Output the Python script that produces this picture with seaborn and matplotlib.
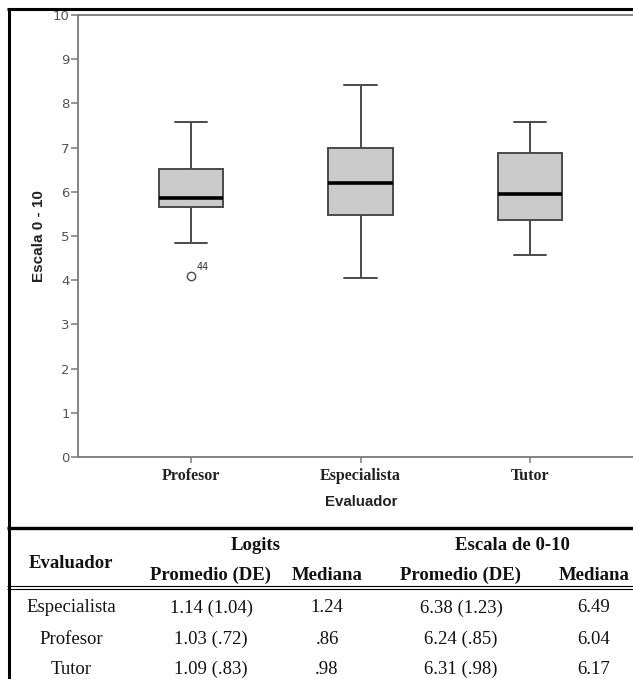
import numpy as np
import pandas as pd
import matplotlib
matplotlib.use("Agg")
import matplotlib.pyplot as plt
from matplotlib.lines import Line2D
import seaborn as sns

# ---------------- data ----------------
evaluators_plot = ["Profesor", "Especialista", "Tutor"]
whisker_low = [4.85, 4.06, 4.57]
q1_vals = [5.65, 5.48, 5.36]
median_vals = [5.85, 6.21, 5.96]
q3_vals = [6.51, 6.99, 6.88]
whisker_high = [7.57, 8.42, 7.59]
outlier_vals = [4.09, None, None]
outlier_ids = ["44", None, None]

table_evaluators = ["Especialista", "Profesor", "Tutor"]
logit_mean_sd = ["1.14 (1.04)", "1.03 (.72)", "1.09 (.83)"]
logit_median = ["1.24", ".86", ".98"]
scale_mean_sd = ["6.38 (1.23)", "6.24 (.85)", "6.31 (.98)"]
scale_median = ["6.49", "6.04", "6.17"]

y_ticks = [0, 1, 2, 3, 4, 5, 6, 7, 8, 9, 10]

# ---------------- build long table from five-number summaries ----------------
rows = []
for i, name in enumerate(evaluators_plot):
    first = outlier_vals[i] if outlier_vals[i] is not None else whisker_low[i]
    vals = [first, whisker_low[i], q1_vals[i], q1_vals[i], median_vals[i],
            q3_vals[i], q3_vals[i], whisker_high[i], whisker_high[i]]
    for v in vals:
        rows.append({"Evaluador": name, "Escala": v})
df = pd.DataFrame(rows)

# ---------------- figure ----------------
sns.set_style("ticks")
W, H = 633, 679
fig = plt.figure(figsize=(W / 100, H / 100), dpi=100)
fig.patch.set_facecolor("white")

def fx(x):
    return x / W

def fy(y):
    return 1 - y / H

ax_left, ax_right, ax_top, ax_bottom = 78, 633, 15, 457
ax = fig.add_axes([fx(ax_left), fy(ax_bottom), fx(ax_right - ax_left),
                   (ax_bottom - ax_top) / H])

spine_c = "#7a7a7a"
sns.boxplot(data=df, x="Evaluador", y="Escala", order=evaluators_plot, ax=ax,
            color="#cbcbcb", saturation=1, width=0.38, linecolor="#4a4a4a",
            linewidth=1.4, whis=1.5,
            medianprops={"color": "black", "linewidth": 2.6},
            flierprops={"marker": "o", "markerfacecolor": "white",
                        "markeredgecolor": "#4a4a4a", "markersize": 6,
                        "markeredgewidth": 1.0})

for i, oid in enumerate(outlier_ids):
    if oid is not None:
        ax.annotate(oid, xy=(i, outlier_vals[i]), xytext=(4, 3),
                    textcoords="offset points", fontsize=7, color="#333333",
                    ha="left", va="bottom", family="DejaVu Sans")

ax.set_ylim(0, 10)
px_per_cat = (530 - 191) / 2
ax.set_xlim(-(191 - ax_left) / px_per_cat, 2 + (ax_right - 530) / px_per_cat)
ax.set_yticks(y_ticks)
ax.set_yticklabels([str(t) for t in y_ticks], color="#555555", fontsize=9.5,
                   family=["Liberation Sans Narrow", "DejaVu Sans"])
ax.set_xticks(range(len(evaluators_plot)))
ax.set_xticklabels(evaluators_plot, fontsize=11.5, fontweight="bold",
                   family="Liberation Serif", color="#222222")
ax.tick_params(axis="y", length=5, width=1.1, color=spine_c, pad=1)
ax.tick_params(axis="x", length=4, width=1.1, color=spine_c, pad=4)
ax.set_xlabel("")
ax.set_ylabel("")
for s in ["left", "bottom", "top"]:
    ax.spines[s].set_color(spine_c)
    ax.spines[s].set_linewidth(1.3)
ax.spines["right"].set_visible(False)
ax.grid(False)

fig.text(fx(39), fy(236), "Escala 0 - 10", rotation=90, ha="center", va="center",
         fontsize=11, fontweight="bold", family="Liberation Sans", color="#222222")
fig.text(fx(361), fy(502), "Evaluador", ha="center", va="center",
         fontsize=10.8, fontweight="bold", family="Liberation Sans", color="#222222")

# ---------------- frame and table rules ----------------
def hline(y, x0, x1, lw, color="black"):
    fig.add_artist(Line2D([fx(x0), fx(x1)], [fy(y), fy(y)], lw=lw, color=color,
                          transform=fig.transFigure, solid_capstyle="butt"))

def vline(x, y0, y1, lw, color="black"):
    fig.add_artist(Line2D([fx(x), fx(x)], [fy(y0), fy(y1)], lw=lw, color=color,
                          transform=fig.transFigure, solid_capstyle="butt"))

vline(8.5, 7.5, H, 2.2)
hline(8.5, 7.5, W, 2.2)
hline(528, 7.5, W, 2.4)
hline(585.5, 7.5, W, 0.8)
hline(588.5, 7.5, W, 0.8)

# ---------------- table text ----------------
serif = "Liberation Serif"
tcol = "#111111"
fs = 13.5
va = "center_baseline"
fig.text(fx(71), fy(561), "Evaluador", ha="center", va=va, fontsize=fs,
         fontweight="bold", family=serif, color=tcol)
fig.text(fx(256), fy(544), "Logits", ha="center", va=va, fontsize=fs,
         fontweight="bold", family=serif, color=tcol)
fig.text(fx(512), fy(544), "Escala de 0-10", ha="center", va=va, fontsize=fs,
         fontweight="bold", family=serif, color=tcol)
sub_heads = ["Promedio (DE)", "Mediana", "Promedio (DE)", "Mediana"]
col_x = [211, 327, 461, 594]
for x, t in zip(col_x, sub_heads):
    fig.text(fx(x), fy(573), t, ha="center", va=va, fontsize=fs,
             fontweight="bold", family=serif, color=tcol)

row_y = [606, 637, 667]
for i, y in enumerate(row_y):
    cells = [table_evaluators[i], logit_mean_sd[i], logit_median[i],
             scale_mean_sd[i], scale_median[i]]
    xs = [71] + col_x
    for x, t in zip(xs, cells):
        fig.text(fx(x), fy(y), t, ha="center", va=va, fontsize=fs,
                 family=serif, color=tcol)

fig.savefig("out.png", dpi=100)
